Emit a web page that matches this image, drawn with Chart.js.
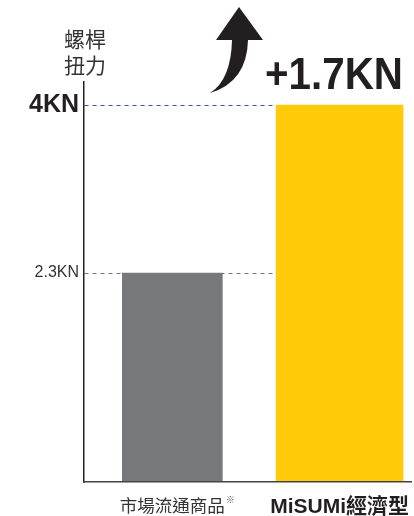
<!DOCTYPE html>
<html>
<head>
<meta charset="utf-8">
<script src="https://cdn.jsdelivr.net/npm/chart.js@4"></script>
<style>
  body { margin: 0; background: #fff; }
  #wrap { width: 414px; height: 516px; position: relative; }
</style>
</head>
<body>
<div id="wrap"><canvas id="torque"></canvas></div>
<script>
const categories = ['市場流通商品', 'MiSUMi經濟型'];
const torque = [2.3, 4];
const yTicks = [2.3, 4];
const unit = 'KN';
const yTitle = ['螺桿', '扭力'];
const noteMark = '※';

const cjk = '"Noto Sans CJK TC", "Liberation Sans", sans-serif';
const latin = '"Liberation Sans", "Noto Sans CJK TC", sans-serif';

// mask the dashes that run past the yellow bar, then draw the extra texts
const extras = {
    id: 'extras',
    beforeDatasetsDraw(chart) {
        const { ctx, chartArea } = chart;
        const bar = chart.getDatasetMeta(1).data[0];
        const right = bar.x + bar.width / 2;
        ctx.save();
        ctx.fillStyle = '#fff';
        ctx.fillRect(right, chartArea.top - 2, chartArea.right - right + 2, chartArea.bottom - chartArea.top);
        ctx.restore();
    },
    afterDraw(chart) {
        const { ctx, chartArea, scales } = chart;
        ctx.save();
        ctx.fillStyle = '#333';
        ctx.font = '21px ' + cjk;
        ctx.textAlign = 'center';
        ctx.textBaseline = 'middle';
        ctx.fillText(yTitle[0], chartArea.left + 1, 39);
        ctx.fillText(yTitle[1], chartArea.left + 1, 65);

        // note mark after the first label
        ctx.font = '17.5px ' + cjk;
        const w = ctx.measureText(categories[0]).width;
        const cx = scales.x.getPixelForValue(0);
        ctx.font = '9px ' + cjk;
        ctx.textAlign = 'left';
        ctx.fillStyle = '#555';
        ctx.fillText(noteMark, cx + w / 2 + 1, 500);

        // arrow
        ctx.fillStyle = '#231f20';
        ctx.beginPath();
        ctx.moveTo(239, 7);
        ctx.lineTo(263, 40);
        ctx.lineTo(248, 40);
        ctx.quadraticCurveTo(247, 82, 210, 93);
        ctx.quadraticCurveTo(231, 80, 232, 40);
        ctx.lineTo(216, 40);
        ctx.closePath();
        ctx.fill();

        ctx.font = 'bold 44px ' + latin;
        ctx.textAlign = 'left';
        ctx.textBaseline = 'alphabetic';
        const diff = '+' + (torque[1] - torque[0]).toFixed(1) + unit;
        ctx.fillText(diff, 265, 89, 138);
        ctx.restore();
    }
};

new Chart(document.getElementById('torque'), {
    type: 'bar',
    data: {
        datasets: [{
            data: [{ x: 0, y: torque[0] }],
            backgroundColor: '#77787b',
            barThickness: 100
        }, {
            data: [{ x: 1, y: torque[1] }],
            backgroundColor: '#ffcb08',
            barThickness: 127
        }]
    },
    options: {
        responsive: true,
        maintainAspectRatio: false,
        animation: false,
        grouped: false,
        layout: { padding: { top: 82, right: 0, bottom: 0, left: 0 } },
        plugins: {
            legend: { display: false },
            tooltip: { enabled: false }
        },
        scales: {
            x: {
                type: 'linear',
                offset: false,
                min: -0.528,
                max: 1.43,
                afterBuildTicks: (scale) => { scale.ticks = categories.map((c, i) => ({ value: i })); },
                afterFit: (scale) => { scale.height = 34; },
                grid: { display: false },
                border: { display: true, color: '#444', width: 1.5, z: 1 },
                ticks: {
                    autoSkip: false,
                    maxRotation: 0,
                    padding: 5,
                    callback: (v) => categories[v],
                    color: (ctx) => ctx.index === 1 ? '#231f20' : '#333',
                    font: (ctx) => ctx.index === 1
                        ? { family: latin, size: 21, weight: 'bold' }
                        : { family: cjk, size: 17.5 }
                }
            },
            y: {
                min: 0.185,
                max: 4.233,
                afterBuildTicks: (scale) => { scale.ticks = yTicks.map(v => ({ value: v })); },
                afterFit: (scale) => { scale.width = 84; },
                grid: {
                    drawTicks: false,
                    lineWidth: 1,
                    color: (ctx) => ctx.tick && ctx.tick.value === 4 ? '#2b5aa3' : '#777'
                },
                border: { display: true, color: '#231f20', width: 1.5, dash: [4, 4] },
                ticks: {
                    autoSkip: false,
                    padding: 5,
                    callback: (v) => v + unit,
                    color: (ctx) => ctx.tick && ctx.tick.value === 4 ? '#231f20' : '#333',
                    font: (ctx) => ctx.tick && ctx.tick.value === 4
                        ? { family: latin, size: 25, weight: 'bold' }
                        : { family: latin, size: 16 }
                }
            }
        }
    },
    plugins: [extras]
});
</script>
</body>
</html>
